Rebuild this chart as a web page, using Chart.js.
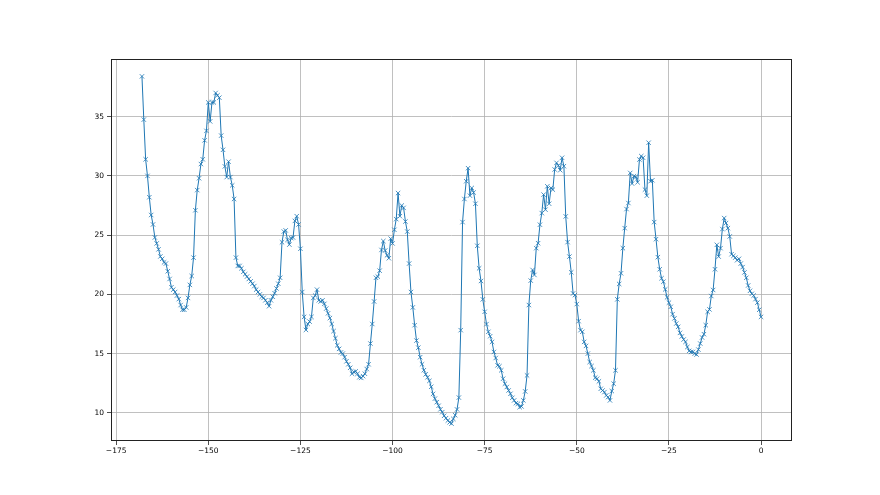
<!DOCTYPE html>
<html>
<head>
<meta charset="utf-8">
<script src="https://cdn.jsdelivr.net/npm/chart.js@4/dist/chart.umd.min.js"></script>
<style>
  html, body { margin: 0; padding: 0; background: #fff; }
  canvas { display: block; }
</style>
</head>
<body>
<canvas id="chart" width="880" height="495"></canvas>
<script>
// one reading every half hour, from 168 h ago up to now
const startHour = -168;
const stepHours = 0.5;
const readings = [
  38.4, 34.75, 31.4, 30.0, 28.2, 26.7, 25.9, 24.8, 24.3, 23.8, 23.2, 23.0, 22.7, 22.6, 21.95, 21.3, 20.6, 20.4, 20.2, 19.9,
  19.6, 19.1, 18.7, 18.7, 18.9, 19.7, 20.8, 21.55, 23.1, 27.1, 28.8, 29.8, 31.0, 31.4, 33.0, 33.8, 36.2,
  34.6, 36.2, 36.2, 37.0, 36.8, 36.6, 33.4, 32.2, 30.8, 29.9, 31.2, 29.9, 29.2, 28.05, 23.1, 22.4, 22.4, 22.2, 21.9, 21.7,
  21.5, 21.3, 21.1, 20.9, 20.7, 20.4, 20.2, 20.0, 19.8, 19.7, 19.5, 19.3, 19.0, 19.5, 19.8, 20.1, 20.5, 20.9, 21.4, 24.4,
  25.3, 25.4, 24.6, 24.2, 24.75, 24.8, 26.2, 26.6, 25.9, 23.85,
  20.2, 18.1, 17.0, 17.5, 17.7, 18.1, 19.7, 19.9, 20.4, 19.5, 19.4, 19.5, 19.2, 18.8, 18.4, 18.0, 17.5, 16.9, 16.3, 15.7,
  15.4, 15.1, 15.0, 14.7, 14.35, 14.1, 13.8, 13.3, 13.45, 13.5, 13.3,
  13.0, 12.95, 13.1, 13.3, 13.7, 14.1, 15.85, 17.5, 19.4, 21.4, 21.5, 22.0, 23.75, 24.5, 23.7, 23.3, 23.05, 24.7, 24.3, 25.45,
  26.35, 28.55, 26.6, 27.5, 27.3, 26.15, 25.3, 22.6, 20.2, 18.9, 17.4, 16.1, 15.5, 14.7, 14.1, 13.6, 13.25, 13.0,
  12.7, 12.2, 11.6, 11.2, 10.9, 10.6, 10.3, 10.06, 9.75, 9.55, 9.35, 9.2, 9.09, 9.49, 9.8, 10.29, 11.29, 16.98,
  26.1, 28.05, 29.55, 30.65, 28.33, 28.98, 28.6, 27.65, 24.1, 22.2, 21.13, 19.58, 18.53, 17.49, 16.84, 16.47, 15.99, 15.14, 14.63, 14.01,
  13.93, 13.59, 12.88, 12.46, 12.18, 11.89, 11.61, 11.27, 11.05,
  10.82, 10.76, 10.48, 10.54, 11.05, 11.81, 13.16, 19.1, 21.16, 22.06, 21.64, 23.9, 24.32, 25.88, 26.86, 28.42, 27.15, 29.12, 27.65, 28.98,
  28.84, 30.54, 31.1, 30.88, 30.48, 31.53, 30.82, 26.58, 24.41, 23.19, 21.86, 20.08, 19.94, 19.18, 17.74, 16.98, 16.84, 15.99, 15.65, 15.0,
  14.29,
  13.95, 13.59, 12.97, 12.88, 12.66, 12.03, 11.89, 11.75, 11.47, 11.33, 11.05, 11.84, 12.46, 13.59, 19.58, 20.88, 21.78, 23.9, 25.59, 27.2,
  27.71, 30.25, 29.35, 29.97, 29.92, 29.46, 31.38, 31.67, 31.53, 28.84, 28.33, 32.8, 29.55, 29.63, 26.1, 24.66, 23.14, 22.12, 21.36, 21.07,
  20.42, 19.75, 19.3, 18.95, 18.33, 17.97, 17.54, 17.26, 16.75, 16.45, 16.19, 15.99, 15.56, 15.23, 15.14, 15.14, 15.0, 14.92, 15.34, 15.85,
  16.36, 16.64, 17.4, 18.53, 18.73, 19.86, 20.37, 22.12, 24.18, 23.19, 23.9, 25.51, 26.44, 26.02, 25.59, 24.89,
  23.39, 23.25, 23.1, 22.88, 23.0, 22.6, 22.3, 21.85, 21.4, 20.75, 20.3, 20.05, 19.9, 19.6, 19.3, 18.7, 18.1,
];
const xTicks = [-175, -150, -125, -100, -75, -50, -25, 0];
const yTicks = [10, 15, 20, 25, 30, 35];

const points = readings.map((y, i) => ({ x: startHour + i * stepHours, y }));

// matplotlib style 5% margins around the data
const xLo = startHour;
const xHi = startHour + (readings.length - 1) * stepHours;
const yLo = Math.min(...readings);
const yHi = Math.max(...readings);
const xPad = (xHi - xLo) * 0.05;
const yPad = (yHi - yLo) * 0.05;

const tickFont = { family: 'DejaVu Sans', size: 7.5 };
const label = (v) => (v < 0 ? '\u2212' + Math.abs(v) : String(v));

const frame = {
  id: 'frame',
  afterDraw(chart) {
    const { ctx, chartArea: a } = chart;
    ctx.save();
    ctx.strokeStyle = '#222';
    ctx.lineWidth = 1;
    ctx.strokeRect(a.left + 0.5, a.top + 0.5, a.right - a.left - 1, a.bottom - a.top - 1);
    ctx.restore();
  },
};

new Chart(document.getElementById('chart'), {
  type: 'line',
  data: {
    datasets: [{
      data: points,
      borderColor: '#1f77b4',
      borderWidth: 1,
      pointStyle: 'crossRot',
      pointRadius: 3.1,
      pointBorderWidth: 0.8,
      pointBorderColor: '#1f77b4',
      tension: 0,
    }],
  },
  options: {
    responsive: false,
    animation: false,
    devicePixelRatio: 1,
    layout: { padding: { top: 59, right: 88, left: 0, bottom: 0 } },
    plugins: { legend: { display: false }, tooltip: { enabled: false } },
    scales: {
      x: {
        type: 'linear',
        min: xLo - xPad,
        max: xHi + xPad,
        afterFit: (scale) => { scale.height = 54; },
        afterBuildTicks: (scale) => { scale.ticks = xTicks.map((value) => ({ value })); },
        border: { display: false },
        grid: { color: '#b0b0b0', lineWidth: 0.8, tickColor: '#222', tickLength: 4 },
        ticks: { color: '#000', font: tickFont, padding: 2, maxRotation: 0, callback: label },
      },
      y: {
        type: 'linear',
        min: yLo - yPad,
        max: yHi + yPad,
        afterFit: (scale) => { scale.width = 111; },
        afterBuildTicks: (scale) => { scale.ticks = yTicks.map((value) => ({ value })); },
        border: { display: false },
        grid: { color: '#b0b0b0', lineWidth: 0.8, tickColor: '#222', tickLength: 4 },
        ticks: { color: '#000', font: tickFont, padding: 3, callback: label },
      },
    },
  },
  plugins: [frame],
});
</script>
</body>
</html>
